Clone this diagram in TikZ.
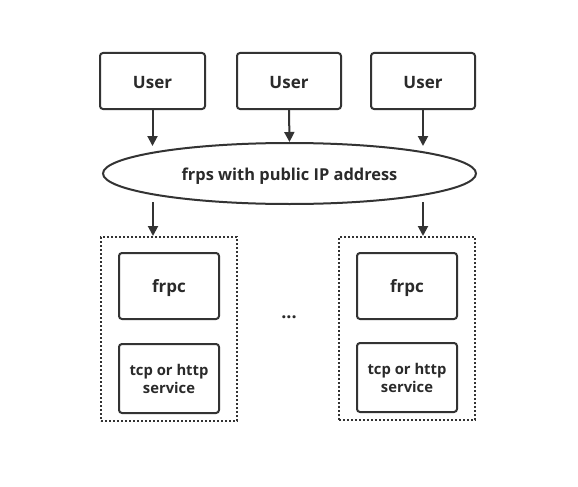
\documentclass[tikz,border=0pt]{standalone}
\usepackage{fontspec}
\setmainfont{Open Sans}[BoldFont={Open Sans Bold}]
\usetikzlibrary{arrows.meta,shapes.geometric}
\definecolor{ln}{HTML}{333333}
\definecolor{tx}{HTML}{2A2A2A}
\tikzset{
  box/.style={draw=ln,line width=2pt,rounded corners=3pt,inner sep=0pt},
  lbl/.style={text=tx,inner sep=0pt,font=\fontsize{17}{19}\selectfont\bfseries},
  smalllbl/.style={lbl,font=\fontsize{14.8}{18}\selectfont\bfseries,align=center},
  group/.style={draw=ln,line width=2pt,dotted,inner sep=0pt},
  arr/.style={draw=ln,line width=2pt,-{Triangle[length=10pt,width=10pt]}},
}
\begin{document}
\begin{tikzpicture}[x=1pt,y=-1pt]
\useasboundingbox (0,0) rectangle (578,487);
\node[box,minimum width=105pt,minimum height=56pt] (u1) at (152.5,81) {};
\node[box,minimum width=104pt,minimum height=56pt] (u2) at (289,81) {};
\node[box,minimum width=104pt,minimum height=56pt] (u3) at (423,81) {};
\node[lbl] (u1t) at ([yshift=-1.5pt]u1.center) {User};
\node[lbl] (u2t) at ([yshift=-1.5pt]u2.center) {User};
\node[lbl] (u3t) at ([yshift=-1.5pt]u3.center) {User};
\node[draw=ln,line width=2pt,ellipse,minimum width=373pt,minimum height=61pt,inner sep=0pt] (frps) at (289.5,173.5) {};
\node[lbl,font=\fontsize{16.4}{19}\selectfont\bfseries] (frpst) at ([yshift=-2.5pt]frps.center) {frps with public IP address};
\node[group,minimum width=136pt,minimum height=184pt] (g1) at (169,329) {};
\node[group,minimum width=136pt,minimum height=183pt] (g2) at (407,328.5) {};
\node[box,minimum width=100pt,minimum height=66pt] (c1) at (169,286) {};
\node[box,minimum width=100pt,minimum height=69pt] (s1) at (169,378.5) {};
\node[box,minimum width=100pt,minimum height=66pt] (c2) at (407,286) {};
\node[box,minimum width=100pt,minimum height=69pt] (s2) at (407,377.5) {};
\node[lbl] (c1t) at ([yshift=-2.5pt]c1.center) {frpc};
\node[lbl] (c2t) at ([yshift=-2.5pt]c2.center) {frpc};
\node[smalllbl] (s1t) at ([yshift=-0.5pt]s1.center) {tcp or http\\service};
\node[smalllbl] (s2t) at ([yshift=-0.5pt]s2.center) {tcp or http\\service};
\node[text=tx,font=\fontsize{18}{20}\selectfont\bfseries] (dots) at (289,317) {...};
\draw[arr] (u1.south) -- (u1.south |- 0,146);
\draw[arr] (u2.south) -- (frps.north);
\draw[arr] (u3.south) -- (u3.south |- 0,146);
\draw[arr] (153,202) -- (g1.north -| 153,0);
\draw[arr] (423,202) -- (g2.north -| 423,0);
\end{tikzpicture}
\end{document}
